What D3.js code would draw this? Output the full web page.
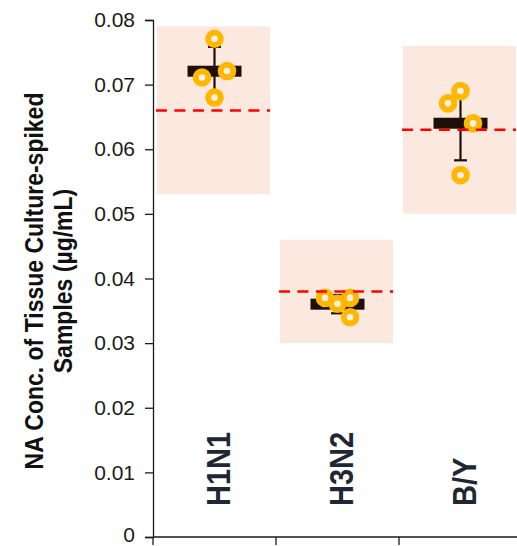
<!DOCTYPE html>
<html>
<head>
<meta charset="utf-8">
<script src="https://cdn.jsdelivr.net/npm/d3@7"></script>
<style>
  html, body { margin: 0; padding: 0; background: #fff; }
  text { font-family: "Liberation Sans", Arial, sans-serif; }
</style>
</head>
<body>
<div id="chart"></div>
<script>
// categories and read values
const categories = ['H1N1', 'H3N2', 'B/Y'];
const targetValues = [0.066, 0.038, 0.063];
const rangeLow = [0.053, 0.030, 0.050];
const rangeHigh = [0.079, 0.046, 0.076];

const h1n1Values = [0.0771, 0.0721, 0.0711, 0.0680];
const h3n2Values = [0.0370, 0.0361, 0.0370, 0.0340];
const byValues = [0.0690, 0.0671, 0.0640, 0.0560];
// horizontal slot of each replicate (-1 left, 0 centre, 1 right)
const h1n1Slots = [0, 1, -1, 0];
const h3n2Slots = [-1, 0, 1, 1];
const bySlots = [0, -1, 1, 0];

const yTicks = [0, 0.01, 0.02, 0.03, 0.04, 0.05, 0.06, 0.07, 0.08];
const yTitle = ['NA Conc. of Tissue Culture-spiked', 'Samples (µg/mL)'];

const width = 517, height = 546;
const margin = { top: 20, right: -5, bottom: 9, left: 153 };

const groups = categories.map((c, i) => ({
  name: c,
  target: targetValues[i],
  low: rangeLow[i],
  high: rangeHigh[i],
  values: [h1n1Values, h3n2Values, byValues][i],
  slots: [h1n1Slots, h3n2Slots, bySlots][i]
}));

const svg = d3.select('#chart').append('svg')
  .attr('width', width)
  .attr('height', height);

const x = d3.scaleBand()
  .domain(categories)
  .range([margin.left, width - margin.right])
  .padding(0);

const y = d3.scaleLinear()
  .domain([0, 0.08])
  .range([height - margin.bottom, margin.top]);

const jitter = d3.scaleLinear().domain([-1, 1]).range([-12.5, 12.5]);

const boxW = x.bandwidth() * 0.92;
const cx = d => x(d.name) + x.bandwidth() / 2;

// acceptance range boxes
svg.append('g').selectAll('rect')
  .data(groups)
  .enter()
  .append('rect')
  .attr('x', d => cx(d) - boxW / 2 - 1)
  .attr('y', d => y(d.high))
  .attr('width', boxW)
  .attr('height', d => y(d.low) - y(d.high))
  .attr('fill', '#fbe9df');

// mean bars
svg.append('g').selectAll('rect')
  .data(groups)
  .enter()
  .append('rect')
  .attr('x', d => cx(d) - 27)
  .attr('y', d => y(d3.mean(d.values)) - 5.5)
  .attr('width', 54)
  .attr('height', 11)
  .attr('fill', '#1e1008');

// error bars (sd)
const err = svg.append('g').attr('stroke', '#1e1008').attr('stroke-width', 2.2);
groups.forEach(d => {
  const m = d3.mean(d.values), s = d3.deviation(d.values);
  err.append('line')
    .attr('x1', cx(d)).attr('x2', cx(d))
    .attr('y1', y(m + s)).attr('y2', y(m - s));
  [m + s, m - s].forEach(v => {
    err.append('line')
      .attr('x1', cx(d) - 6.5).attr('x2', cx(d) + 6.5)
      .attr('y1', y(v)).attr('y2', y(v));
  });
});

// replicate points
svg.append('g').selectAll('g')
  .data(groups)
  .enter()
  .append('g')
  .each(function (d) {
    d3.select(this).selectAll('circle')
      .data(d.values.map((v, i) => ({ v: v, s: d.slots[i] })))
      .enter()
      .append('circle')
      .attr('cx', p => cx(d) + jitter(p.s))
      .attr('cy', p => y(p.v))
      .attr('r', 6.3)
      .attr('fill', '#fcefe8')
      .attr('stroke', '#ffb700')
      .attr('stroke-width', 6);
  });

// target lines
svg.append('g').selectAll('line')
  .data(groups)
  .enter()
  .append('line')
  .attr('x1', d => cx(d) - boxW / 2 - 2)
  .attr('x2', d => cx(d) + boxW / 2 - 1)
  .attr('y1', d => y(d.target))
  .attr('y2', d => y(d.target))
  .attr('stroke', '#ff0000')
  .attr('stroke-width', 2.5)
  .attr('stroke-dasharray', '11,7.5');

// y axis
const yAxis = svg.append('g')
  .attr('transform', `translate(${margin.left},0)`)
  .call(d3.axisLeft(y).tickValues(yTicks).tickFormat(d => d === 0 ? '0' : d3.format('.2f')(d)).tickSize(8).tickPadding(10));
yAxis.selectAll('text').attr('font-size', 21).attr('fill', '#1a1a1a')
  .attr('font-family', '"Liberation Sans", Arial, sans-serif')
  .attr('dy', d => d === 0 ? '0.2em' : '0.32em');
yAxis.selectAll('line, path').attr('stroke', '#1a1a1a').attr('stroke-width', 1.3);

// x axis with ticks on category boundaries
const xBase = height - margin.bottom;
svg.append('line')
  .attr('x1', margin.left).attr('x2', width)
  .attr('y1', xBase).attr('y2', xBase)
  .attr('stroke', '#1a1a1a').attr('stroke-width', 1.3);
svg.append('g').selectAll('line')
  .data(categories)
  .enter()
  .append('line')
  .attr('x1', d => x(d)).attr('x2', d => x(d))
  .attr('y1', xBase).attr('y2', xBase + 8)
  .attr('stroke', '#1a1a1a').attr('stroke-width', 1.3);

// category labels inside plot
svg.append('g').selectAll('text')
  .data(categories)
  .enter()
  .append('text')
  .attr('transform', d => `translate(${x(d) + x.bandwidth() / 2 + 15},506) rotate(-90) scale(0.88,1)`)
  .attr('font-size', 33)
  .attr('font-weight', 'bold')
  .attr('fill', '#1e2733')
  .text(d => d);

// y axis title
svg.append('g').selectAll('text')
  .data(yTitle)
  .enter()
  .append('text')
  .attr('transform', (d, i) => `translate(${43 + i * 29},281) rotate(-90) scale(0.92,1)`)
  .attr('text-anchor', 'middle')
  .attr('font-size', 25)
  .attr('font-weight', 'bold')
  .attr('fill', '#111')
  .text(d => d);
</script>
</body>
</html>
